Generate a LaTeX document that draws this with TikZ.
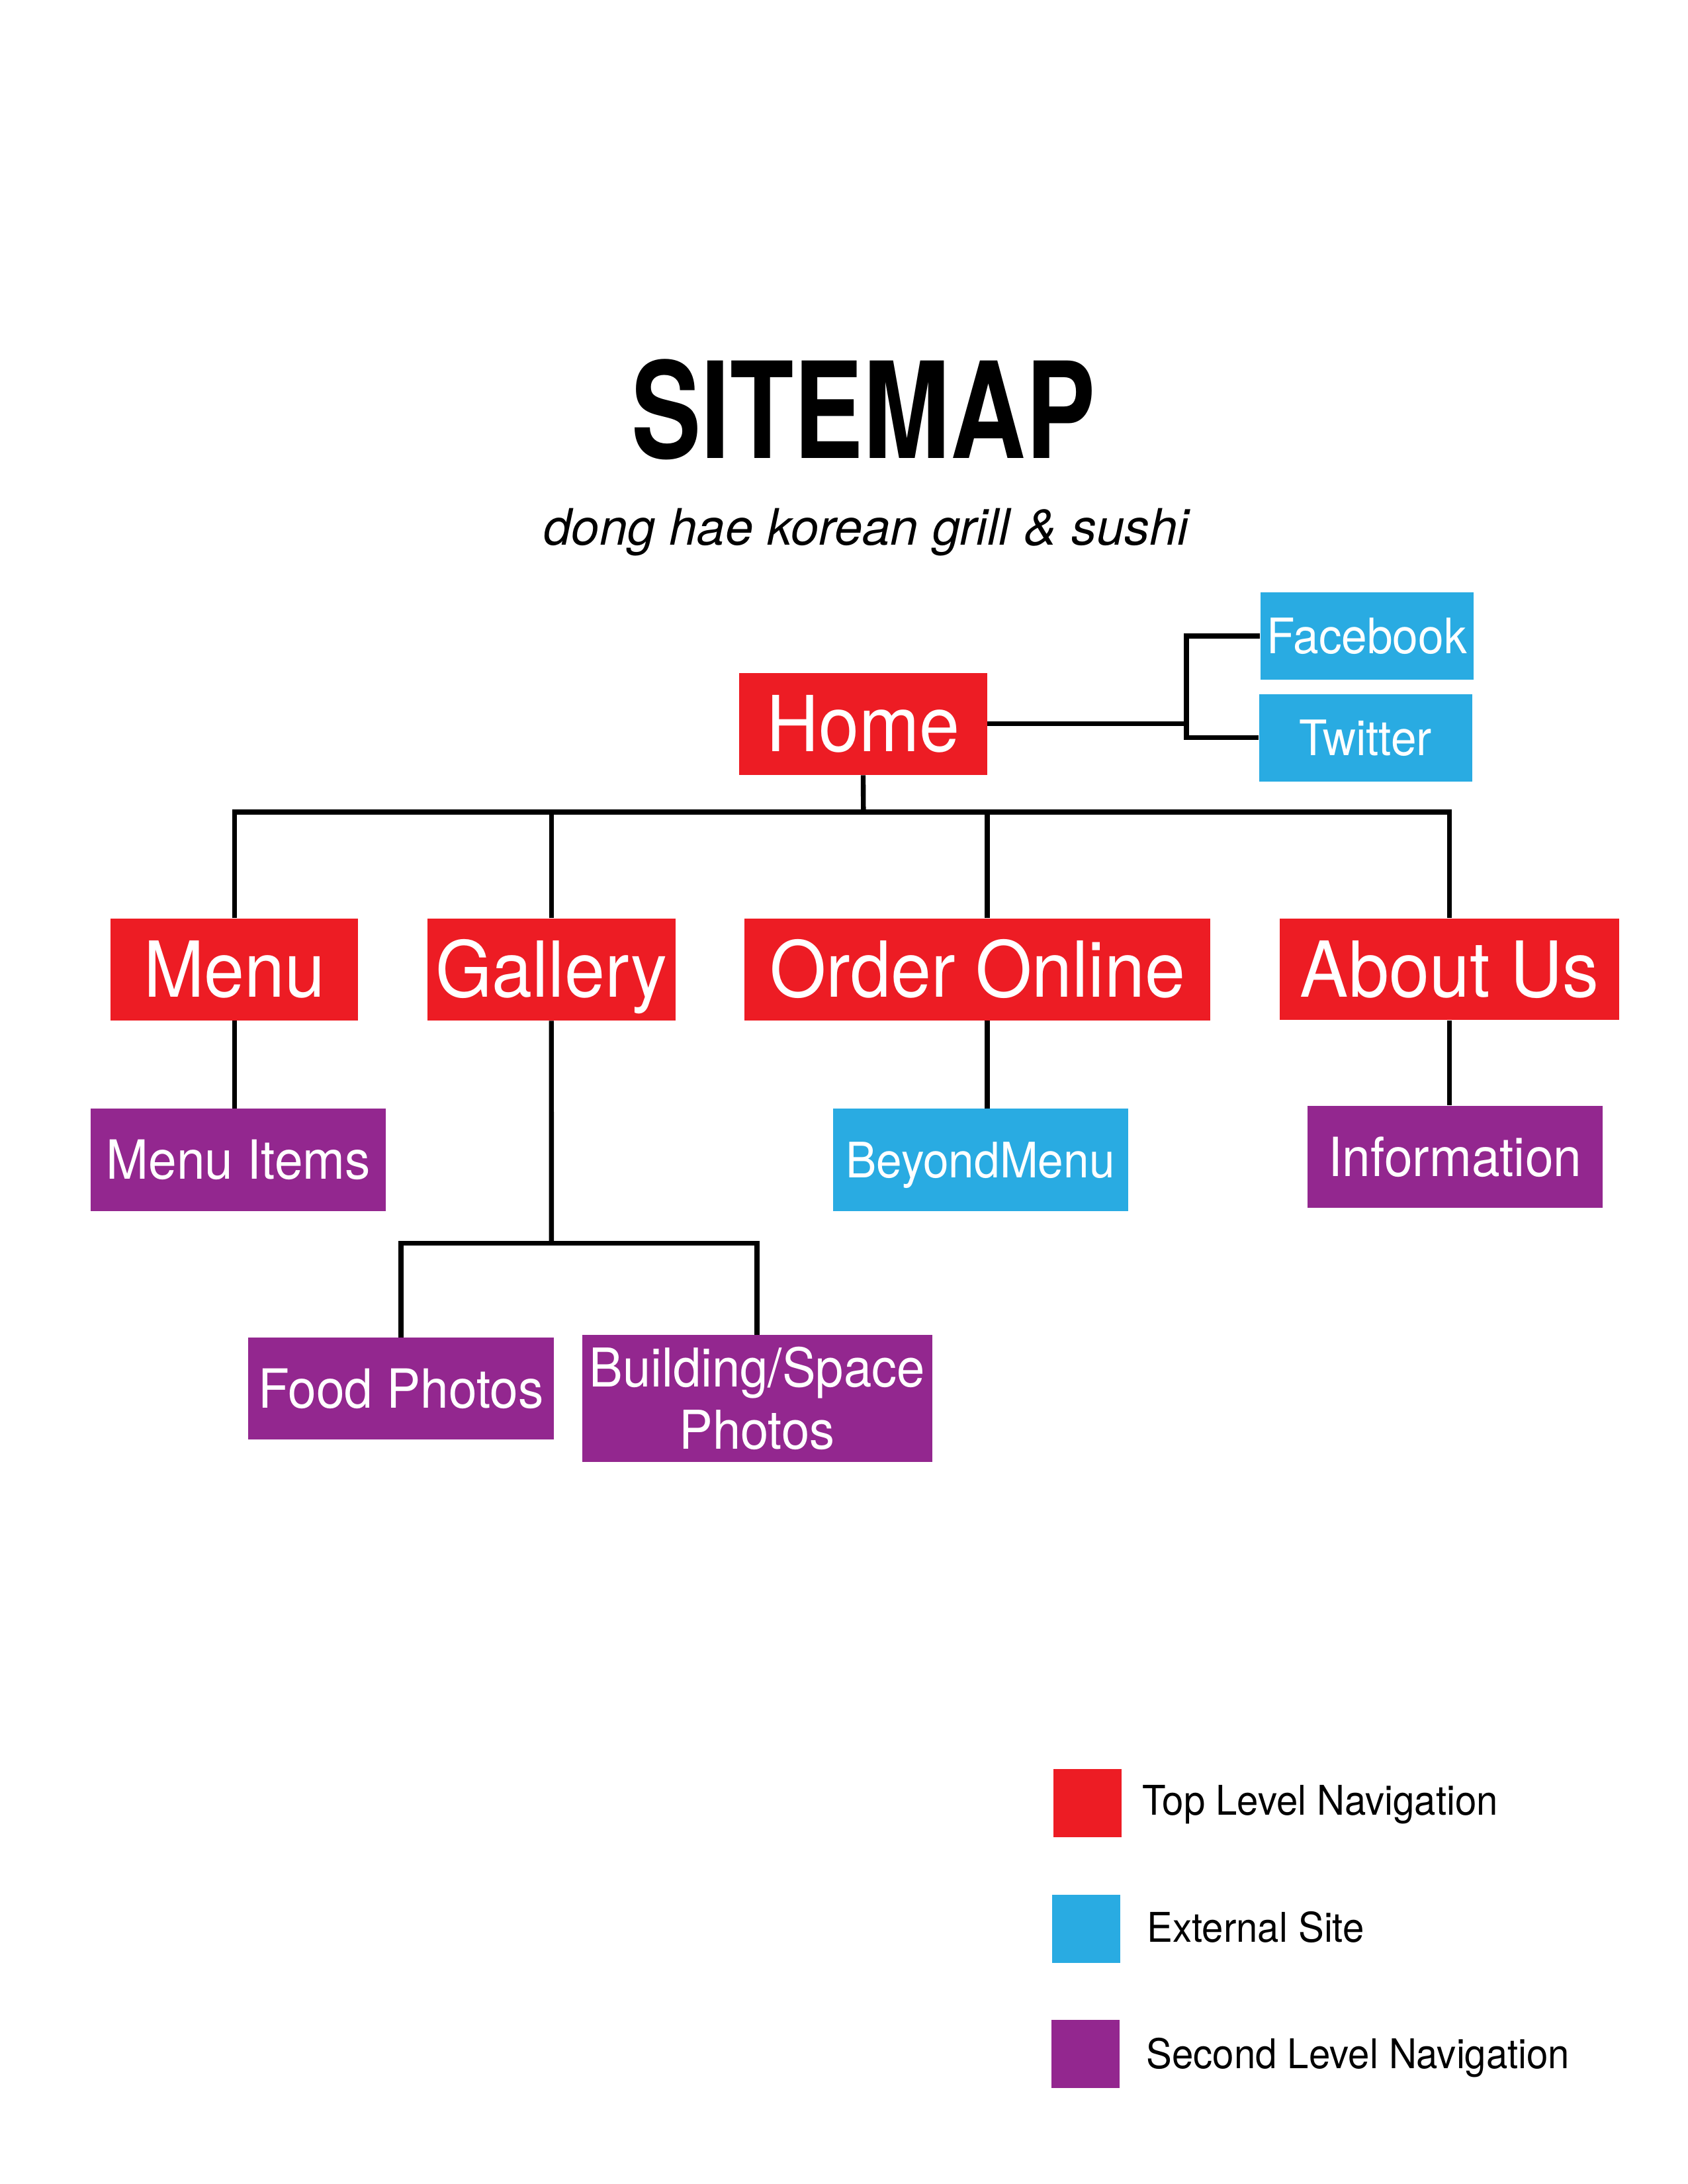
\documentclass[tikz,border=0pt]{standalone}
\usepackage{fontspec}
\setmainfont{TeX Gyre Heros}
\newfontfamily\labelfont[FakeStretch=0.94]{TeX Gyre Heros}
\newfontfamily\titlefont[FakeStretch=0.78]{TeX Gyre Heros}
\definecolor{navred}{HTML}{ED1C24}
\definecolor{navblue}{HTML}{29ABE2}
\definecolor{navpurple}{HTML}{93278F}
\newcommand{\px}{0.02104cm}
\newcommand{\bigfont}{\labelfont\fontsize{33.2pt}{39pt}\selectfont}
\newcommand{\midfont}{\labelfont\fontsize{23.2pt}{28pt}\selectfont}
\newcommand{\extfont}{\labelfont\fontsize{21pt}{25pt}\selectfont}
\newcommand{\keyfont}{\labelfont\fontsize{17.6pt}{21pt}\selectfont}

\tikzset{
  box/.style={inner sep=0pt, text=white, align=center},
  toplevel/.style={box, fill=navred, minimum height=73*\px, font=\bigfont, text height=23.8pt, text depth=0pt},
  external/.style={box, fill=navblue, minimum height=63*\px, font=\extfont, text height=15.1pt, text depth=0pt},
  secondlevel/.style={box, fill=navpurple, minimum height=73.2*\px, font=\midfont},
  oneline/.style={text height=16.6pt, text depth=0pt},
  link/.style={draw=black, line width=2.1pt},
  keybox/.style={minimum size=49*\px, inner sep=0pt},
  keytext/.style={anchor=base west, inner sep=0pt, font=\keyfont}
}

\begin{document}
\begin{tikzpicture}[x=\px, y=-\px]
\fill[white] (0,0) rectangle (1212,1568);
\useasboundingbox (0,0) rectangle (1212,1568);

% heading
\node[anchor=base, inner sep=0pt, font=\titlefont\bfseries\fontsize{57.5pt}{60pt}\selectfont] (title) at (620,329) {SITEMAP};
\node[anchor=base, inner sep=0pt, font=\itshape\fontsize{21.6pt}{26pt}\selectfont] (subtitle) at (622,391.3) {dong hae korean grill \& sushi};

% pages
\node[toplevel, minimum width=178*\px] (home) at (619.8,519.7) {Home};
\node[external, minimum width=153*\px] (facebook) at (981.5,456.7) {Facebook};
\node[external, minimum width=153*\px] (twitter) at (980.5,529.7) {Twitter};

\node[toplevel, minimum width=177.8*\px] (menu) at (168.3,696) {Menu};
\node[toplevel, minimum width=178.2*\px] (gallery) at (395.9,696) {Gallery};
\node[toplevel, minimum width=334.3*\px] (order) at (701.9,696) {Order Online};
\node[toplevel, minimum width=243.8*\px] (about) at (1040.7,695.8) {About Us};

\node[secondlevel, oneline, minimum width=211.8*\px] (items) at (171.2,832.7) {Menu Items};
\node[external, minimum width=212*\px, minimum height=73.2*\px] (beyond) at (704,832.7) {BeyondMenu};
\node[secondlevel, oneline, minimum width=212*\px] (info) at (1044.8,830.6) {Information};
\node[secondlevel, oneline, minimum width=219.6*\px] (food) at (288,997) {Food Photos};
\node[secondlevel, minimum width=251.3*\px, minimum height=91*\px, font=\labelfont\fontsize{23pt}{26.9pt}\selectfont] (building) at (543.6,1004) {Building/Space\\Photos};

% connectors
\coordinate (fork) at (852,519.7);
\coordinate (bus) at (620,583);
\coordinate (orderstem) at (709,583);
\coordinate (gsplit) at (396,892.5);
\draw[link] (home.east) -- (fork);
\draw[link] (facebook.west) -| (fork) |- (twitter.west);
\draw[link] (home.south) -- (bus);
\draw[link] (menu.north) -- (menu.north |- bus) -- (about.north |- bus) -- (about.north);
\draw[link] (gallery.north) -- (gallery.north |- bus);
\draw[link] (orderstem) -- (orderstem |- order.north);
\draw[link] (menu.south) -- (menu.south |- items.north);
\draw[link] (orderstem |- order.south) -- (orderstem |- beyond.north);
\draw[link] (about.south) -- (about.south |- info.north);
\draw[link] (gallery.south) -- (gsplit);
\draw[link] (food.north) -- (food.north |- gsplit) -- (building.north |- gsplit) -- (building.north);

% legend
\node[keybox, fill=navred] (keytop) at (780.7,1294.5) {};
\node[keybox, fill=navblue] (keyext) at (780,1385) {};
\node[keybox, fill=navpurple] (keysecond) at (779.5,1474.8) {};
\node[keytext] (keytoptext) at (820,1303) {Top Level Navigation};
\node[keytext] (keyexttext) at (823.4,1394.3) {External Site};
\node[keytext] (keysecondtext) at (822.9,1485) {Second Level Navigation};
\end{tikzpicture}
\end{document}
